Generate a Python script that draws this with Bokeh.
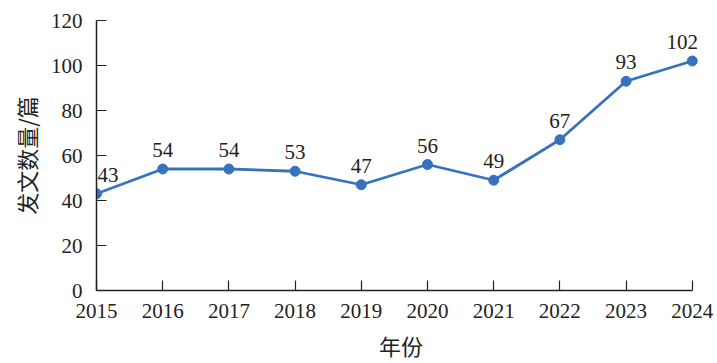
from bokeh.plotting import figure
from bokeh.models import ColumnDataSource, Range1d, FixedTicker, LabelSet
from bokeh.core.properties import value
from bokeh.embed import file_html
from bokeh.resources import INLINE

years = [2015, 2016, 2017, 2018, 2019, 2020, 2021, 2022, 2023, 2024]
counts = [43, 54, 54, 53, 47, 56, 49, 67, 93, 102]
y_ticks = [0, 20, 40, 60, 80, 100, 120]

x_label = "年份"
y_label = "发文数量/篇"

SERIF = "Liberation Serif"
CJK = "Noto Sans CJK SC"
BLUE = "#3872bd"
INK = "#222222"

# extra room on the right of the last year so its label is not clipped
RIGHT_PAD = 0.2

p = figure(width=717, height=363, output_backend="svg", toolbar_location=None,
           x_range=Range1d(years[0], years[-1] + RIGHT_PAD),
           y_range=Range1d(y_ticks[0], y_ticks[-1]),
           min_border_left=96, min_border_right=12, min_border_top=20, min_border_bottom=72)
p.outline_line_color = None
p.grid.visible = False

for ax in (p.xaxis[0], p.yaxis[0]):
    ax.major_tick_in = 10
    ax.major_tick_out = 0
    ax.minor_tick_line_color = None
    ax.axis_line_color = INK
    ax.axis_line_width = 1.5
    ax.major_tick_line_color = INK
    ax.major_tick_line_width = 1.2
    ax.major_label_text_font = SERIF
    ax.major_label_text_font_size = "21px"
    ax.major_label_text_color = INK
    ax.axis_label_text_font = CJK
    ax.axis_label_text_font_size = "22px"
    ax.axis_label_text_font_style = "normal"
    ax.axis_label_text_color = INK

p.xaxis.bounds = (years[0], years[-1])
p.xaxis.ticker = FixedTicker(ticks=years)
p.yaxis.ticker = FixedTicker(ticks=y_ticks)
p.xaxis.axis_label = x_label
p.yaxis.axis_label = y_label
p.xaxis.major_label_standoff = 13
p.yaxis.major_label_standoff = 14
p.xaxis.axis_label_standoff = 8
p.yaxis.axis_label_standoff = 6

n = len(years)
src = ColumnDataSource(dict(
    x=years, y=counts, lab=[str(c) for c in counts],
    align=["left"] + ["center"] * (n - 1),
    xo=[1] + [0] * (n - 2) + [-10],
))

p.line("x", "y", source=src, line_color=BLUE, line_width=2.8)
p.scatter("x", "y", source=src, size=10, fill_color=BLUE, line_color=BLUE)

labels = LabelSet(x="x", y="y", text="lab", source=src, text_align="align",
                  x_offset="xo", y_offset=12, text_baseline="alphabetic",
                  text_font=value(SERIF), text_font_size="21px", text_color=INK)
p.add_layout(labels)

open("out.html", "w").write(file_html(p, INLINE))
